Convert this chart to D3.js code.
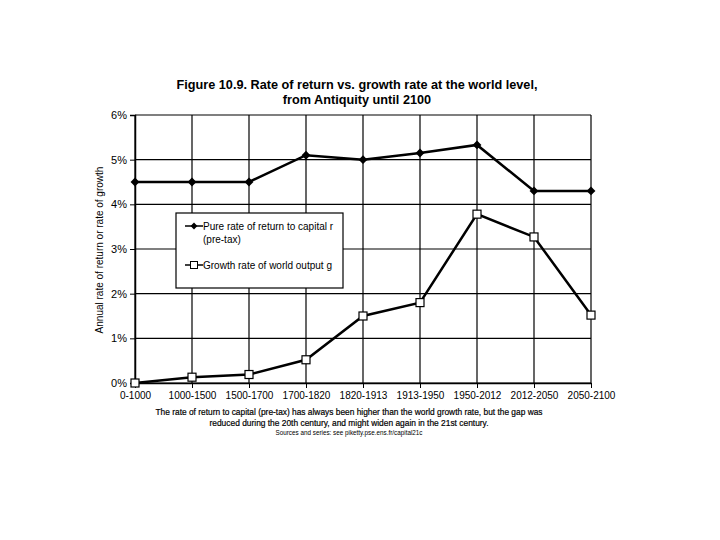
<!DOCTYPE html>
<html><head><meta charset="utf-8">
<script src="https://cdn.jsdelivr.net/npm/d3@7"></script>
<style>body{margin:0;background:#fff}svg{display:block}text{font-family:"Liberation Sans",Arial,sans-serif;fill:#000}</style>
</head><body>
<svg id="c" width="720" height="540"></svg>
<script>
const categories = ["0-1000","1000-1500","1500-1700","1700-1820","1820-1913","1913-1950","1950-2012","2012-2050","2050-2100"];
const rValues = [4.5,4.5,4.5,5.1,5.0,5.15,5.33,4.3,4.3];
const gValues = [0.0,0.13,0.19,0.52,1.5,1.8,3.78,3.27,1.52];
const yTicks = [0,1,2,3,4,5,6];
const titleLines = ["Figure 10.9. Rate of return vs. growth rate at the world level,","from Antiquity until 2100"];
const noteLines = ["The rate of return to capital (pre-tax) has always been higher than the world growth rate, but the gap was","reduced during the 20th century, and might widen again in the 21st century."];
const sourceLine = "Sources and series: see piketty.pse.ens.fr/capital21c";
const seriesNames = ["Pure rate of return to capital r","(pre-tax)","Growth rate of world output g"];

const svg = d3.select("#c");
const x = d3.scalePoint().domain(categories).range([135,591]);
const y = d3.scaleLinear().domain([0,6]).range([383,115]);

// grid
const g = svg.append("g");
g.selectAll("line.h").data(yTicks).join("line")
  .attr("x1",135).attr("x2",591).attr("y1",d=>y(d)).attr("y2",d=>y(d))
  .attr("stroke","#000").attr("stroke-width",1.2);
g.selectAll("line.v").data(categories).join("line")
  .attr("x1",d=>x(d)).attr("x2",d=>x(d)).attr("y1",115).attr("y2",383)
  .attr("stroke","#000").attr("stroke-width",1.2);

// axes
const ya = svg.append("g").attr("transform","translate(135,0)")
  .call(d3.axisLeft(y).tickValues(yTicks).tickFormat(d=>d+"%").tickSize(5).tickPadding(3));
ya.select(".domain").attr("stroke-width",1.5);
ya.selectAll("text").attr("font-size",11).style("font-family","Liberation Sans, Arial");
const xa = svg.append("g").attr("transform","translate(0,383)")
  .call(d3.axisBottom(x).tickSize(5).tickPadding(4).tickSizeOuter(0));
xa.select(".domain").attr("stroke-width",1.5);
xa.selectAll("text").attr("font-size",10).style("font-family","Liberation Sans, Arial");

// lines
const line = d3.line().x((d,i)=>x(categories[i])).y(d=>y(d));
svg.append("path").datum(rValues).attr("d",line).attr("fill","none").attr("stroke","#000").attr("stroke-width",2.5);
svg.append("path").datum(gValues).attr("d",line).attr("fill","none").attr("stroke","#000").attr("stroke-width",2.5);
const diamond = d3.symbol().type(d3.symbolDiamond2).size(50);
svg.selectAll("path.r").data(rValues).join("path")
  .attr("transform",(d,i)=>`translate(${x(categories[i])},${y(d)})`).attr("d",diamond).attr("fill","#000");
svg.selectAll("rect.g").data(gValues).join("rect")
  .attr("x",(d,i)=>x(categories[i])-4).attr("y",d=>y(d)-4).attr("width",8).attr("height",8)
  .attr("fill","#fff").attr("stroke","#000").attr("stroke-width",1.2);

// legend
const lg = svg.append("g");
lg.append("rect").attr("x",176).attr("y",213).attr("width",167).attr("height",75).attr("fill","#fff").attr("stroke","#000").attr("stroke-width",1.2);
lg.append("line").attr("x1",185).attr("x2",203).attr("y1",226).attr("y2",226).attr("stroke","#000").attr("stroke-width",1.5);
lg.append("path").attr("transform","translate(194,226)").attr("d",d3.symbol().type(d3.symbolDiamond2).size(30)).attr("fill","#000");
lg.append("line").attr("x1",185).attr("x2",203).attr("y1",265).attr("y2",265).attr("stroke","#000").attr("stroke-width",1.5);
lg.append("rect").attr("x",190.5).attr("y",261.5).attr("width",7).attr("height",7).attr("fill","#fff").attr("stroke","#000");
lg.append("text").attr("x",203).attr("y",230).attr("font-size",10).text(seriesNames[0]);
lg.append("text").attr("x",203).attr("y",243).attr("font-size",10).text(seriesNames[1]);
lg.append("text").attr("x",203).attr("y",269).attr("font-size",10).text(seriesNames[2]);

// title
svg.selectAll("text.t").data(titleLines).join("text")
  .attr("x",357).attr("y",(d,i)=>89+i*15).attr("text-anchor","middle")
  .attr("font-size",12.7).attr("font-weight","bold").text(d=>d);

// y title
svg.append("text").attr("transform","translate(103,250) rotate(-90)").attr("text-anchor","middle")
  .attr("font-size",10).text("Annual rate of return or rate of growth");

// notes
const noteW = [387,279];
svg.selectAll("text.n").data(noteLines).join("text")
  .attr("x",349).attr("y",(d,i)=>415+i*11).attr("text-anchor","middle")
  .attr("font-size",9).attr("textLength",(d,i)=>noteW[i]).attr("lengthAdjust","spacingAndGlyphs")
  .style("stroke","#000").style("stroke-width",0.2).text(d=>d);
svg.append("text").attr("x",349).attr("y",435).attr("text-anchor","middle")
  .attr("font-size",7.5).attr("textLength",147).attr("lengthAdjust","spacingAndGlyphs").text(sourceLine);
</script>
</body></html>
